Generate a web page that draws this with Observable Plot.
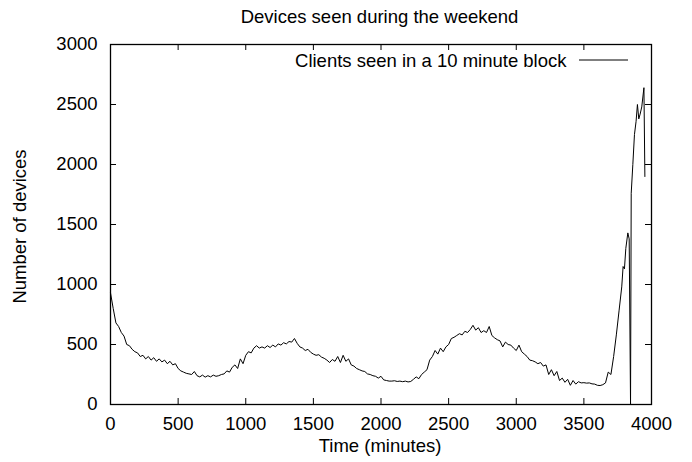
<!DOCTYPE html>
<html>
<head>
<meta charset="utf-8">
<script src="https://cdn.jsdelivr.net/npm/d3@7"></script>
<script src="https://cdn.jsdelivr.net/npm/@observablehq/plot@0.6"></script>
<style>
  html, body { margin: 0; padding: 0; background: white; }
</style>
</head>
<body>
<div id="chart"></div>
<script>
const title = "Devices seen during the weekend";
const seriesName = "Clients seen in a 10 minute block";
const xLabel = "Time (minutes)";
const yLabel = "Number of devices";
const xTicks = [0, 500, 1000, 1500, 2000, 2500, 3000, 3500, 4000];
const yTicks = [0, 500, 1000, 1500, 2000, 2500, 3000];

const minutes = [
  0, 20, 40, 60, 80, 100, 120, 140, 160, 180, 200, 220, 240, 260, 280, 300, 320, 340, 360, 380,
  400, 420, 440, 460, 480, 500, 520, 540, 560, 580, 600, 620, 640, 660, 680, 700, 720, 740, 760, 780,
  800, 820, 840, 860, 880, 900, 920, 940, 960, 980, 1000, 1020, 1040, 1060, 1080, 1100, 1120, 1140, 1160, 1180,
  1200, 1220, 1240, 1260, 1280, 1300, 1320, 1340, 1360, 1380, 1400, 1420, 1440, 1460, 1480, 1500, 1520, 1540, 1560, 1580,
  1600, 1620, 1640, 1660, 1680, 1700, 1720, 1740, 1760, 1780, 1800, 1820, 1840, 1860, 1880, 1900, 1920, 1940, 1960, 1980,
  2000, 2020, 2040, 2060, 2080, 2100, 2120, 2140, 2160, 2180, 2200, 2220, 2240, 2260, 2280, 2300, 2320, 2340, 2360, 2380,
  2400, 2420, 2440, 2460, 2480, 2500, 2520, 2540, 2560, 2580, 2600, 2620, 2640, 2660, 2680, 2700, 2720, 2740, 2760, 2780,
  2800, 2820, 2840, 2860, 2880, 2900, 2920, 2940, 2960, 2980, 3000, 3020, 3040, 3060, 3080, 3100, 3120, 3140, 3160, 3180,
  3200, 3220, 3240, 3260, 3280, 3300, 3320, 3340, 3360, 3380, 3400, 3420, 3440, 3460, 3480, 3500, 3520, 3540, 3560, 3580,
  3600, 3620, 3640, 3660, 3680, 3700, 3720, 3740, 3760, 3780, 3790, 3800, 3810, 3825, 3835, 3845, 3850, 3862, 3874, 3886,
  3896, 3906, 3916, 3928, 3944, 3951
];
const clients = [
  930, 800, 680, 650, 600, 570, 500, 490, 460, 440, 430, 400, 410, 380, 400, 370, 390, 360, 380, 355,
  370, 340, 360, 330, 340, 300, 280, 270, 260, 255, 250, 275, 240, 230, 245, 228, 240, 230, 245, 235,
  240, 250, 255, 280, 270, 310, 330, 300, 380, 340, 410, 440, 430, 470, 490, 470, 480, 470, 490, 475,
  495, 480, 505, 495, 515, 505, 525, 520, 550, 510, 480, 470, 450, 460, 435, 420, 410, 415, 395, 385,
  370, 350, 375, 360, 400, 350, 410, 360, 380, 330, 320, 300, 290, 280, 275, 255, 250, 240, 235, 220,
  235, 205, 200, 195, 195, 198, 192, 195, 190, 195, 188, 192, 210, 230, 215, 250, 270, 290, 370, 400,
  450, 420, 470, 440, 480, 500, 550, 560, 575, 590, 580, 610, 600, 625, 660, 620, 640, 600, 615, 600,
  650, 575, 555, 540, 530, 480, 520, 500, 495, 470, 450, 495, 440, 420, 400, 370, 365, 355, 340, 350,
  320, 330, 250, 290, 240, 275, 200, 220, 185, 210, 160, 200, 170, 190, 180, 182, 178, 180, 172, 170,
  160, 158, 165, 180, 270, 250, 400, 580, 780, 980, 1150, 1130, 1300, 1430, 1380, 0, 1760, 2000, 2250, 2360,
  2500, 2380, 2420, 2480, 2640, 1900
];

const data = minutes.map((m, i) => ({minute: m, count: clients[i]}));

const W = 692, H = 462;
const mL = 110, mR = 41, mT = 44, mB = 58;
const innerW = W - mL - mR, innerH = H - mT - mB;
const tick = 6;

function legendLine(index, scales, values, dims) {
  const g = d3.create("svg:g");
  const right = dims.width - dims.marginRight;
  g.append("line")
    .attr("x1", right - 72).attr("x2", right - 23)
    .attr("y1", dims.marginTop + 16).attr("y2", dims.marginTop + 16)
    .attr("stroke", "black").attr("stroke-width", 1);
  return g.node();
}

const chart = Plot.plot({
  width: W,
  height: H,
  marginLeft: mL,
  marginRight: mR,
  marginTop: mT,
  marginBottom: mB,
  style: {fontFamily: "'Liberation Sans', Arial, Helvetica, sans-serif", fontSize: "18.5px", background: "white", color: "black"},
  x: {domain: [0, 4000]},
  y: {domain: [0, 3000]},
  marks: [
    Plot.ruleX(xTicks, {x: d => d, insetTop: innerH - tick, stroke: "black"}),
    Plot.ruleX(xTicks, {x: d => d, insetBottom: innerH - tick, stroke: "black"}),
    Plot.ruleY(yTicks, {y: d => d, insetRight: innerW - tick, stroke: "black"}),
    Plot.ruleY(yTicks, {y: d => d, insetLeft: innerW - tick, stroke: "black"}),
    Plot.axisX({ticks: xTicks, tickSize: 0, tickPadding: 12, label: null, tickFormat: d => String(d)}),
    Plot.axisY({ticks: yTicks, tickSize: 0, tickPadding: 13, label: null, tickFormat: d => String(d)}),
    Plot.line(data, {x: "minute", y: "count", stroke: "black", strokeWidth: 1}),
    Plot.frame({stroke: "black", strokeWidth: 1.3}),
    Plot.text([title], {frameAnchor: "top", dx: -1.5, dy: -27.5, lineAnchor: "middle", fill: "black"}),
    Plot.text([seriesName], {frameAnchor: "top-right", textAnchor: "end", dx: -85, dy: 17, lineAnchor: "middle", fill: "black"}),
    legendLine,
    Plot.text([xLabel], {frameAnchor: "bottom", textAnchor: "middle", dx: -1, dy: 42, lineAnchor: "middle", fill: "black"}),
    Plot.text([yLabel], {frameAnchor: "left", textAnchor: "middle", dx: -90, dy: 2, rotate: -90, lineAnchor: "middle", fill: "black"})
  ]
});

document.getElementById("chart").appendChild(chart);
</script>
</body>
</html>
